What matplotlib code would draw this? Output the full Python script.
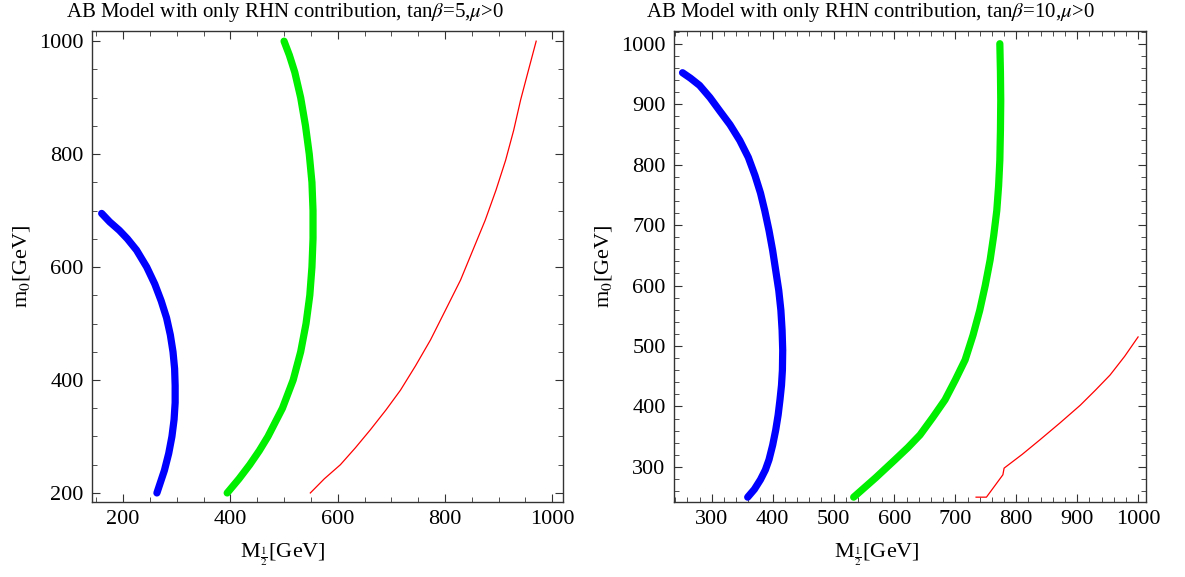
import matplotlib
matplotlib.use("Agg")
import matplotlib.pyplot as plt
from matplotlib.ticker import MultipleLocator

plt.rcParams['font.family'] = ['Liberation Serif', 'DejaVu Serif']
plt.rcParams['mathtext.fontset'] = 'stix'

# ---- Data: left panel (tan beta = 5) ----
blue5_x = [160, 175, 193, 208, 225, 244, 259, 271, 281, 288, 293, 296, 297, 297, 295, 291, 285, 277, 270, 263]
blue5_y = [695, 680, 665, 650, 630, 600, 570, 540, 510, 480, 450, 420, 390, 360, 330, 300, 270, 240, 220, 200]
green5_x = [394, 416, 436, 454, 470, 497, 517, 531, 541, 548, 552, 554, 554, 552, 547, 540, 531, 520, 510, 500]
green5_y = [200, 225, 250, 275, 300, 350, 400, 450, 500, 550, 600, 650, 700, 750, 800, 850, 900, 945, 975, 1000]
red5_x = [549, 575, 605, 633, 661, 690, 717, 745, 773, 800, 829, 852, 875, 895, 913, 928, 941, 956, 970]
red5_y = [200, 225, 250, 280, 312, 347, 382, 425, 471, 522, 577, 630, 683, 736, 789, 842, 896, 950, 1000]

# ---- Data: right panel (tan beta = 10) ----
blue10_x = [252, 265, 280, 297, 313, 330, 346, 360, 371, 380, 387, 394, 400, 405, 410, 413.5, 415.5, 416.5,
            416, 414.5, 412, 409, 405, 400, 394, 388, 380, 370, 359]
blue10_y = [952, 943, 931, 911, 889, 866, 840, 812, 782, 753, 724, 691, 658, 625, 592, 559, 526, 493,
            460, 435, 411, 386, 361, 336, 312, 295, 279, 263, 250]
green10_x = [773, 774, 774.5, 774, 773, 771, 768, 763, 757, 749, 740, 729, 716, 700, 683, 663, 642, 622,
             601, 585, 569, 551, 533]
green10_y = [1000, 953, 906, 857, 807, 765, 724, 683, 642, 600, 559, 518, 477, 444, 411, 382, 353, 332,
             312, 297, 282, 266, 250]
red10_x = [734, 751, 778, 780, 810, 839, 872, 905, 930, 954, 978, 1000]
red10_y = [250, 250, 287, 298, 321, 345, 373, 402, 427, 452, 483, 515]

titles = [r'AB Model with only RHN contribution, tan$\beta$=5,$\mu$>0',
          r'AB Model with only RHN contribution, tan$\beta$=10,$\mu$>0']
xlabel = r'M$_{\frac{1}{2}}$[GeV]'
ylabel = r'm$_0$[GeV]'

W, H = 1185, 577
fig = plt.figure(figsize=(W / 100, H / 100), dpi=100)

def px_axes(l, t, r, b):
    return fig.add_axes([l / W, 1 - b / H, (r - l) / W, (b - t) / H])

ax1 = px_axes(92, 31, 563, 502)
ax2 = px_axes(674, 31, 1146, 502)

BLUE, GREEN, RED = '#0000ff', '#00ee00', '#ff0000'

for ax, data in [(ax1, [(blue5_x, blue5_y), (green5_x, green5_y), (red5_x, red5_y)]),
                 (ax2, [(blue10_x, blue10_y), (green10_x, green10_y), (red10_x, red10_y)])]:
    (bx, by), (gx, gy), (rx, ry) = data
    ax.plot(bx, by, color=BLUE, lw=5.2, solid_capstyle='round', solid_joinstyle='round')
    ax.plot(gx, gy, color=GREEN, lw=5.2, solid_capstyle='round', solid_joinstyle='round')
    ax.plot(rx, ry, color=RED, lw=0.9)

ax1.set_xlim(142, 1020)
ax1.set_ylim(184, 1018)
ax1.xaxis.set_major_locator(MultipleLocator(200))
ax1.xaxis.set_minor_locator(MultipleLocator(50))
ax1.yaxis.set_major_locator(MultipleLocator(200))
ax1.yaxis.set_minor_locator(MultipleLocator(50))

ax2.set_xlim(238, 1013)
ax2.set_ylim(242, 1021)
ax2.xaxis.set_major_locator(MultipleLocator(100))
ax2.xaxis.set_minor_locator(MultipleLocator(20))
ax2.yaxis.set_major_locator(MultipleLocator(100))
ax2.yaxis.set_minor_locator(MultipleLocator(20))

for ax, title, tx, xl_x in [(ax1, titles[0], 285, 0.405), (ax2, titles[1], 870, 0.43)]:
    for s in ax.spines.values():
        s.set_color('#333333')
        s.set_linewidth(1.0)
    ax.tick_params(which='both', direction='in', top=True, right=True,
                   labelsize=16, pad=6, color='#333333')
    ax.tick_params(which='major', length=6, width=0.8)
    ax.tick_params(which='minor', length=3.5, width=0.6)
    ax.set_xlabel(xlabel, fontsize=16, va='top')
    ax.xaxis.set_label_coords(xl_x, -0.082)
    ax.set_ylabel(ylabel, fontsize=16, va='center')
    ax.yaxis.set_label_coords(-0.149, 0.5)
    fig.text(tx / W, 1 - 13 / H, title, fontsize=15, ha='center', va='center')

fig.savefig('out.png', dpi=100)
